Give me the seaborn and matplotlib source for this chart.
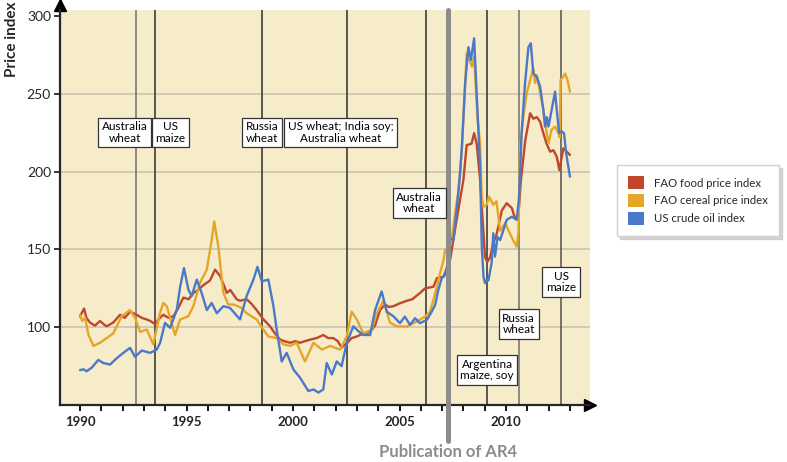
import numpy as np
import pandas as pd
import matplotlib
matplotlib.use("Agg")
import matplotlib.pyplot as plt
from matplotlib.patches import Patch
import seaborn as sns

# ------------------------------------------------------------------------------
# Data (decimal year, index value)
# ------------------------------------------------------------------------------
food_years = [1990.0, 1990.19, 1990.3, 1990.47, 1990.7, 1990.94, 1991.1, 1991.25, 1991.56, 1991.88,
              1992.1, 1992.35, 1992.66, 1992.9, 1993.13, 1993.3, 1993.52, 1993.75, 1993.91, 1994.15,
              1994.38, 1994.6, 1994.85, 1995.1, 1995.32, 1995.55, 1995.79, 1996.1, 1996.34, 1996.57,
              1996.75, 1996.89, 1997.05, 1997.2, 1997.35, 1997.51, 1997.82, 1998.05, 1998.29, 1998.61,
              1998.92, 1999.15, 1999.39, 1999.6, 1999.86, 2000.1, 2000.33, 2000.55, 2000.8, 2001.1,
              2001.42, 2001.65, 2001.89, 2002.1, 2002.28, 2002.55, 2002.75, 2002.99, 2003.3, 2003.61,
              2003.85, 2004.08, 2004.32, 2004.5, 2004.71, 2005.02, 2005.34, 2005.6, 2005.96, 2006.2,
              2006.59, 2006.75, 2007.06, 2007.37, 2007.6, 2007.84, 2008.0, 2008.15, 2008.38, 2008.5,
              2008.62, 2008.78, 2009.01, 2009.12, 2009.25, 2009.4, 2009.56, 2009.8, 2010.03, 2010.27,
              2010.42, 2010.58, 2010.7, 2010.9, 2011.13, 2011.28, 2011.45, 2011.6, 2011.75, 2011.9,
              2012.07, 2012.22, 2012.38, 2012.5, 2012.69, 2012.85, 2013.0]
food_vals = [107, 112, 106, 103, 101, 104, 102, 100.6, 103, 108,
             106, 110, 108, 106, 105, 104, 102, 106, 108, 106,
             107, 112, 119, 118, 122, 124, 127, 130, 137, 133,
             127, 122, 124, 121, 118, 117, 118, 115, 111, 105,
             100.6, 96, 92, 91, 90, 91, 90, 91, 92, 93,
             95, 93, 93, 91, 87, 90, 93, 94, 96, 97,
             101, 111, 114.6, 113, 113.5, 115.4, 117, 118, 122, 125,
             126, 131.5, 132.5, 143, 162.5, 182, 195, 217, 218, 224.7,
             218, 195, 145, 142, 145, 154, 160, 175, 179.7, 176.6,
             170, 172, 195, 220, 237.5, 234, 235, 232, 224.7, 218,
             212.8, 213.8, 209.6, 201, 215, 212.8, 210.7]

cereal_years = [1990.0, 1990.1, 1990.24, 1990.4, 1990.63, 1990.94, 1991.25, 1991.56, 1991.95, 1992.35,
                1992.58, 1992.82, 1993.13, 1993.44, 1993.75, 1993.91, 1994.07, 1994.46, 1994.7, 1995.08,
                1995.32, 1995.63, 1995.95, 1996.18, 1996.3, 1996.49, 1996.73, 1996.96, 1997.2, 1997.59,
                1997.82, 1998.29, 1998.61, 1998.84, 1999.23, 1999.55, 1999.86, 2000.17, 2000.56, 2000.96,
                2001.35, 2001.74, 2002.21, 2002.52, 2002.75, 2002.99, 2003.3, 2003.69, 2003.93, 2004.24,
                2004.55, 2004.86, 2005.34, 2005.8, 2006.2, 2006.43, 2006.59, 2006.75, 2006.9, 2007.06,
                2007.14, 2007.3, 2007.45, 2007.6, 2007.75, 2007.93, 2008.15, 2008.31, 2008.4, 2008.5,
                2008.66, 2008.78, 2008.86, 2008.94, 2009.09, 2009.2, 2009.4, 2009.55, 2009.72, 2009.96,
                2010.1, 2010.33, 2010.5, 2010.58, 2010.66, 2010.81, 2010.97, 2011.13, 2011.28, 2011.36,
                2011.44, 2011.6, 2011.75, 2011.91, 2011.99, 2012.13, 2012.3, 2012.46, 2012.52, 2012.56,
                2012.69, 2012.77, 2012.88, 2013.0]
cereal_vals = [108, 104, 106, 95, 88, 90, 93, 96, 107, 111,
               106, 97, 98.5, 89, 109, 115.6, 113.5, 95, 105, 107,
               113.5, 128.5, 137, 156, 168, 152, 122, 114.6, 114.6, 112.4,
               109, 105, 98.5, 94, 93, 89, 88, 90, 78, 90,
               85.6, 88, 85.6, 94, 110, 105, 96, 98.5, 109, 117,
               103, 100.6, 100.4, 103.6, 106.8, 110, 117.5, 126, 134.7, 143,
               149.7, 148, 157, 173, 186, 216, 276, 270.7, 267.5, 274,
               235, 218, 184, 177.5, 178.6, 184, 178.6, 181, 162, 167,
               162.5, 156, 151.8, 161, 216, 235, 250.4, 259, 266.5, 257,
               262, 250.4, 239.7, 224.7, 218, 226.8, 229, 224.7, 222, 259,
               261, 263, 259, 251.4]

oil_years = [1990.0, 1990.16, 1990.31, 1990.55, 1990.86, 1991.09, 1991.41, 1991.72, 1992.03, 1992.35,
             1992.58, 1992.9, 1993.29, 1993.6, 1993.76, 1993.99, 1994.23, 1994.54, 1994.7, 1994.88,
             1995.09, 1995.24, 1995.48, 1995.71, 1995.95, 1996.18, 1996.42, 1996.73, 1997.04, 1997.51,
             1997.82, 1998.14, 1998.33, 1998.53, 1998.84, 1999.08, 1999.23, 1999.47, 1999.7, 2000.02,
             2000.33, 2000.72, 2000.96, 2001.19, 2001.42, 2001.58, 2001.82, 2002.05, 2002.28, 2002.52,
             2002.83, 2003.07, 2003.3, 2003.62, 2003.85, 2004.16, 2004.4, 2004.71, 2005.02, 2005.25,
             2005.49, 2005.73, 2005.96, 2006.28, 2006.51, 2006.67, 2006.82, 2006.98, 2007.14, 2007.3,
             2007.37, 2007.53, 2007.68, 2007.85, 2007.93, 2008.08, 2008.23, 2008.35, 2008.5, 2008.62,
             2008.78, 2008.86, 2008.94, 2009.01, 2009.09, 2009.17, 2009.32, 2009.4, 2009.48, 2009.6,
             2009.72, 2010.03, 2010.27, 2010.5, 2010.6, 2010.66, 2010.73, 2010.89, 2011.05, 2011.16,
             2011.28, 2011.44, 2011.6, 2011.75, 2011.83, 2011.91, 2011.99, 2012.14, 2012.3, 2012.38,
             2012.49, 2012.6, 2012.72, 2012.82, 2013.0]
oil_vals = [72.4, 73, 71.7, 74, 79, 77, 76, 80, 83.5, 86.7,
            81, 85, 83.5, 85.6, 90, 102.8, 99.6, 111, 126, 138,
            124, 120, 130.6, 122, 111, 115.6, 109, 113.5, 112.4, 105,
            120, 130.6, 138.8, 129.5, 130.6, 113.5, 98.5, 78, 83.5, 72.8,
            67.5, 59, 60, 58, 60, 77, 69.6, 78, 75, 90,
            100.6, 97.4, 95, 95, 111, 123, 110, 107, 102.6, 106.8,
            101.5, 105.8, 102.6, 104.7, 110, 114.3, 124, 131.5, 133.6, 143.3,
            157.2, 156, 175.4, 200, 217, 256.8, 280, 271.8, 285.7, 250,
            203, 151.8, 132.5, 128.3, 130.4, 130, 141, 160.4, 145.4, 158,
            156, 169, 171, 169, 181.8, 200, 224.7, 256.8, 280, 282.5,
            263, 261, 254.6, 239.7, 229, 235, 229, 239.7, 251.4, 239.7,
            224.7, 226, 224.7, 211.8, 196.8]

series_names = ["FAO food price index", "FAO cereal price index", "US crude oil index"]
series_colors = ["#c2462b", "#e4a628", "#4b78c8"]

# supply-shock events (year of the vertical line) and their labels
event_years = [1992.63, 1993.54, 1998.56, 2002.54, 2006.24, 2009.09, 2010.6, 2012.58]
event_labels = ["Australia\nwheat", "US\nmaize", "Russia\nwheat",
                "US wheat; India soy;\nAustralia wheat", "Australia\nwheat",
                "Argentina\nmaize, soy", "Russia\nwheat", "US\nmaize"]
ar4_year = 2007.28

# where each label box sits (x year, y value) - layout only
label_pos = [(1992.09, 225), (1994.25, 225), (1998.54, 225), (2002.23, 225),
             (2005.92, 180), (2009.11, 72.6), (2010.59, 102), (2012.58, 129)]
event_line_colors = ["#707070", "#2e2e2e", "#2e2e2e", "#2e2e2e",
                     "#2e2e2e", "#2e2e2e", "#707070", "#505050"]

# long-form table for seaborn
df = pd.concat([
    pd.DataFrame({"year": food_years, "value": food_vals, "series": series_names[0]}),
    pd.DataFrame({"year": cereal_years, "value": cereal_vals, "series": series_names[1]}),
    pd.DataFrame({"year": oil_years, "value": oil_vals, "series": series_names[2]}),
], ignore_index=True)

# ------------------------------------------------------------------------------
# Style
# ------------------------------------------------------------------------------
sns.set_style("ticks")
plt.rcParams['font.family'] = ['Lato', 'DejaVu Sans']

fig = plt.figure(figsize=(7.87, 4.62), dpi=100)
ax = fig.add_axes([60 / 787, 57 / 462, 530 / 787, 395.5 / 462])
ax.set_facecolor("#f7ecca")

ax.set_xlim(1989.06, 2013.94)
ax.set_ylim(50, 304.2)

# event lines
for yr, col in zip(event_years, event_line_colors):
    ax.axvline(yr, color=col, lw=1.1, zorder=1)

# the series
sns.lineplot(data=df, x="year", y="value", hue="series", hue_order=series_names,
             palette=series_colors, estimator=None, sort=False, lw=1.7,
             legend=False, ax=ax, zorder=3)

# AR4 publication marker
ax.axvline(ar4_year, ymin=-0.091, ymax=1, color="#8c8c8c", lw=3.6, clip_on=False, zorder=4)
ax.text(ar4_year, -0.119, "Publication of AR4", transform=ax.get_xaxis_transform(),
        ha="center", va="center", fontsize=12, fontweight="bold", color="#8c8c8c")

# label boxes
for (lx, ly), txt in zip(label_pos, event_labels):
    ax.text(lx, ly, txt, ha="center", va="center", fontsize=8.5, color="black",
            linespacing=1.05, zorder=5,
            bbox=dict(boxstyle="square,pad=0.3", fc="white", ec="#333333", lw=0.9))

# axes, ticks and grid
ax.set_yticks([100, 150, 200, 250, 300])
ax.set_xticks([1990, 1995, 2000, 2005, 2010])
ax.set_xticks(np.arange(1990, 2014), minor=True)
ax.tick_params(axis="x", which="both", direction="out", length=4, width=1.3, color="black",
               pad=4, labelsize=9.5)
ax.tick_params(axis="y", direction="out", length=4, width=1.1, color="black", pad=2.5,
               labelsize=10)
for lab in ax.get_xticklabels():
    lab.set_fontweight("bold")
ax.grid(axis="y", color="#cfc7b2", lw=1.3)
ax.get_ygridlines()[-1].set_visible(False)
ax.set_axisbelow(True)

sns.despine(ax=ax)
ax.spines["left"].set_linewidth(1.6)
ax.spines["bottom"].set_linewidth(1.6)
ax.plot(0, 1.012, marker="^", ms=8, color="black", transform=ax.transAxes, clip_on=False)
ax.plot(1.0, 0, marker=">", ms=8, color="black", transform=ax.transAxes, clip_on=False)

ax.set_xlabel("")
ax.set_ylabel("")
fig.text(12 / 787, 1 - 39 / 462, "Price index", rotation=90, ha="center", va="center",
         fontsize=11, fontweight="bold")

# legend
handles = [Patch(facecolor=c, edgecolor="none") for c in series_colors]
leg = fig.legend(handles, series_names, loc="upper left",
                 bbox_to_anchor=(617 / 787, 1 - 165 / 462), frameon=True, fancybox=False,
                 shadow={"color": "#b0b0b0", "alpha": 0.5}, edgecolor="#d0d0d0",
                 facecolor="white", framealpha=1,
                 fontsize=8.2, handlelength=1.35, handleheight=1.35, borderpad=1.0,
                 labelspacing=0.45, handletextpad=0.9, borderaxespad=0)

fig.savefig("out.png", dpi=100)
